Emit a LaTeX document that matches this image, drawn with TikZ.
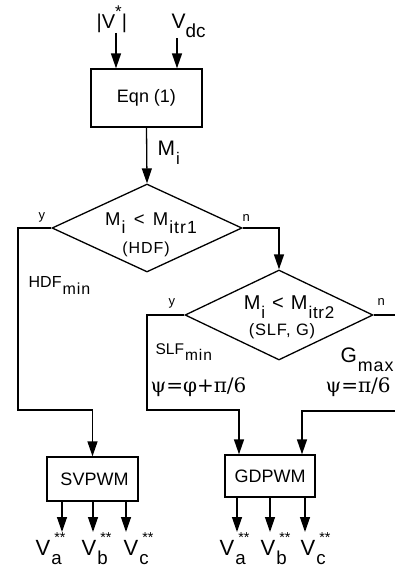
\documentclass[tikz,border=0pt]{standalone}
\usepackage{fontspec}
\setmainfont{Liberation Sans}
\newfontfamily\greekfont{DejaVu Serif}
\usetikzlibrary{arrows.meta,shapes.geometric}
\newcommand{\fsz}[1]{\fontsize{#1}{#1}\selectfont}
\newcommand{\lo}[2][0.95]{\kern1pt\raisebox{-0.45em}{\scalebox{#1}{#2}}}
\newcommand{\hi}[2][0.65]{\raisebox{0.55em}{\scalebox{#1}{#2}}}
\newcommand{\lohi}[1]{\rlap{\lo[0.85]{#1}}\kern4pt\hi{**}}
\newcommand{\spread}[1]{\addfontfeature{LetterSpace=#1}}

\begin{document}
\begin{tikzpicture}[x=1pt, y=-1pt, line width=1.3pt,
    flow/.style={-{Triangle[length=15pt,width=10pt]}},
    block/.style={draw, rectangle, inner sep=0pt},
    test/.style={draw, diamond, inner sep=0pt},
    lbl/.style={inner sep=0pt, anchor=base west}]
    \useasboundingbox (0,0) rectangle (395,571);
    \clip (0,0) rectangle (395,571);

    % inputs and first block
    \node[lbl] (vstar) at (96,28) {\fsz{20}|V\hi[0.85]{*}|};
    \node[lbl] (vdc) at (171,28) {\fsz{21}V\kern-1pt\lo[0.9]{dc}};
    \node[block, minimum width=111pt, minimum height=58pt] (eqn) at (146.5,98) {\fsz{18}Eqn (1)};
    \draw[flow] (vstar.south -| 116,0) -- (eqn.north -| 116,0);
    \draw[flow] (vdc.south -| 177,0) -- (eqn.north -| 177,0);

    % first test (HDF)
    \node[test, minimum width=190pt, minimum height=88pt] (hdf) at (147,228) {};
    \draw[flow] (eqn.south) -- (hdf.north);
    \node[lbl] (mi) at (157,155) {\fsz{21}M\lo[0.8]{i}};
    \node[lbl, anchor=base] (hdftop) at (151,225) {\fsz{18.5}\spread{6}M\lo{i}\hspace{0.45em}<\hspace{0.45em}M\lo{itr1}};
    \node[lbl, anchor=base] (hdfbot) at (146,253) {\fsz{16}\spread{6}(HDF)};
    \node[lbl] (hdfy) at (38,219) {\fsz{13}y};
    \node[lbl] (hdfn) at (242,221) {\fsz{13}n};
    \node[lbl] (hdfmin) at (28,287) {\fsz{16}HDF\lo[1.0]{\spread{6}min}};

    % second test (SLF, G)
    \node[test, minimum width=188pt, minimum height=90pt] (slf) at (279,315) {};
    \draw[flow] (hdf.east) -| (slf.north);
    \node[lbl, anchor=base] (slftop) at (289,309) {\fsz{20}\spread{4}M\lo[0.85]{i}\hspace{0.35em}<\hspace{0.35em}M\lo[0.85]{itr2}};
    \node[lbl, anchor=base] (slfbot) at (282,335) {\fsz{16.5}\spread{5}(SLF, G)};
    \node[lbl] (slfy) at (168,305) {\fsz{13}y};
    \node[lbl] (slfn) at (377,305) {\fsz{13}n};
    \node[lbl] (slfmin) at (155,354) {\fsz{15.5}SLF\lo[1.0]{\spread{6}min}};
    \node[lbl] (gmax) at (340,362) {\fsz{21}G\lo[0.85]{\spread{5}max}};
    \node[lbl] (psi1) at (150,392) {\fsz{20}\greekfont ψ=φ+π/6};
    \node[lbl] (psi2) at (325,392) {\fsz{20}\greekfont ψ=π/6};

    % modulators
    \node[block, minimum width=91pt, minimum height=44pt] (svpwm) at (92.5,479) {\fsz{18}\hspace{4pt}SVPWM};
    \node[block, minimum width=90pt, minimum height=42pt] (gdpwm) at (270,476) {\fsz{18}GDPWM};
    \draw[flow] (hdf.west) -| (18,410) -| (svpwm.north);
    \draw[flow] (slf.west) -| (147,410) -| ([xshift=-31pt]gdpwm.north);
    \draw[flow] (slf.east) -| (399,411) -| ([xshift=32pt]gdpwm.north);

    % outputs
    \node[lbl] (sva) at (35,555) {\fsz{22}V\lohi{a}};
    \node[lbl] (svb) at (81,555) {\fsz{22}V\lohi{b}};
    \node[lbl] (svc) at (123,555) {\fsz{22}V\lohi{c}};
    \node[lbl] (gda) at (219,555) {\fsz{22}V\lohi{a}};
    \node[lbl] (gdb) at (260,555) {\fsz{22}V\lohi{b}};
    \node[lbl] (gdc) at (300,555) {\fsz{22}V\lohi{c}};
    \draw[flow] ([xshift=-30.5pt]svpwm.south) -- ([xshift=-30.5pt]svpwm.south |- 0,532);
    \draw[flow] ([xshift=0.5pt]svpwm.south) -- ([xshift=0.5pt]svpwm.south |- 0,532);
    \draw[flow] ([xshift=33.5pt]svpwm.south) -- ([xshift=33.5pt]svpwm.south |- 0,532);
    \draw[flow] ([xshift=-33pt]gdpwm.south) -- ([xshift=-33pt]gdpwm.south |- 0,532);
    \draw[flow] (gdpwm.south) -- (gdpwm.south |- 0,532);
    \draw[flow] ([xshift=35pt]gdpwm.south) -- ([xshift=35pt]gdpwm.south |- 0,532);
\end{tikzpicture}
\end{document}
